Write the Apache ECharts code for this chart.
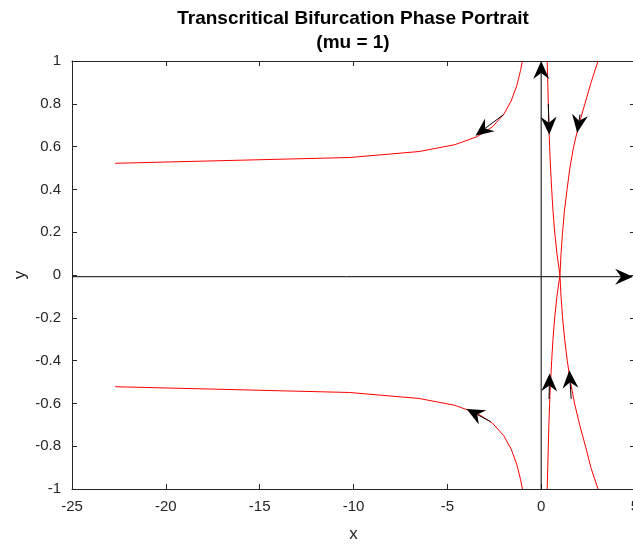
<!DOCTYPE html>
<html>
<head>
<meta charset="utf-8">
<script src="https://cdn.jsdelivr.net/npm/echarts@6/dist/echarts.min.js"></script>
<style>
  html, body { margin: 0; padding: 0; background: #fff; }
  #chart { width: 633px; height: 544px; }
</style>
</head>
<body>
<div id="chart"></div>
<script>
const upperLeft = [[-22.7, 0.522], [-10.2, 0.549], [-6.5, 0.577], [-4.6, 0.609], [-3.4, 0.647],
  [-2.6, 0.692], [-2.0, 0.75], [-1.6, 0.813], [-1.3, 0.885], [-1.1, 0.955], [-1.0, 1.0]]
const lowerLeft = [[-22.7, -0.522], [-10.2, -0.549], [-6.5, -0.577], [-4.6, -0.609], [-3.4, -0.647],
  [-2.6, -0.692], [-2.0, -0.75], [-1.6, -0.813], [-1.3, -0.885], [-1.1, -0.955], [-1.0, -1.0]]
const upperMiddle = [[0.32, 1.0], [0.35, 0.9], [0.38, 0.8], [0.41, 0.7], [0.45, 0.6], [0.5, 0.5],
  [0.56, 0.4], [0.63, 0.3], [0.72, 0.2], [0.84, 0.1], [1.0, 0.0]]
const lowerMiddle = [[0.32, -1.0], [0.35, -0.9], [0.38, -0.8], [0.41, -0.7], [0.45, -0.6], [0.5, -0.5],
  [0.56, -0.4], [0.63, -0.3], [0.72, -0.2], [0.84, -0.1], [1.0, 0.0]]
const upperRight = [[3.03, 1.0], [2.66, 0.9], [2.33, 0.8], [2.0, 0.7], [1.73, 0.6], [1.53, 0.5],
  [1.38, 0.4], [1.24, 0.3], [1.14, 0.2], [1.06, 0.1], [1.0, 0.0]]
const lowerRight = [[3.03, -1.0], [2.65, -0.9], [2.36, -0.8], [2.05, -0.7], [1.78, -0.6], [1.56, -0.5],
  [1.39, -0.4], [1.25, -0.3], [1.14, -0.2], [1.06, -0.1], [1.0, 0.0]]

// quiver arrows: tail -> tip (first two are the drawn axes)
const arrowTails = [[-25, -0.008], [0, -1], [-2.0, 0.75], [-2.7, -0.685], [0.38, 0.8], [2.07, 0.75], [0.42, -0.58], [1.6, -0.58]]
const arrowTips = [[4.9, -0.008], [0, 1], [-3.5, 0.651], [-3.97, -0.626], [0.43, 0.655], [1.92, 0.665], [0.45, -0.46], [1.5, -0.445]]

const xTicks = { min: -25, max: 5, step: 5 }
const yTicks = { min: -1, max: 1, step: 0.2 }

const chart = echarts.init(document.getElementById('chart'))

const axisColor = '#262626'
const fontFamily = 'Liberation Sans, Arial, sans-serif'

const redLine = (data) => ({
  type: 'line',
  data: data,
  showSymbol: false,
  symbol: 'none',
  silent: true,
  lineStyle: { color: '#ff0000', width: 1 },
  z: 2
})

const renderArrow = (params, api) => {
  const p0 = api.coord([api.value(0), api.value(1)])
  const p1 = api.coord([api.value(2), api.value(3)])
  const dx = p1[0] - p0[0]
  const dy = p1[1] - p0[1]
  const len = Math.sqrt(dx * dx + dy * dy) || 1
  const ux = dx / len, uy = dy / len
  const nx = -uy, ny = ux
  const L = 18, W = 8, N = 6
  const back = [p1[0] - ux * L, p1[1] - uy * L]
  const notch = [p1[0] - ux * (L - N), p1[1] - uy * (L - N)]
  return {
    type: 'group',
    children: [
      {
        type: 'line',
        shape: { x1: p0[0], y1: p0[1], x2: notch[0], y2: notch[1] },
        style: { stroke: '#000', lineWidth: 1 }
      },
      {
        type: 'polygon',
        shape: {
          points: [p1, [back[0] + nx * W, back[1] + ny * W], notch, [back[0] - nx * W, back[1] - ny * W]]
        },
        style: { fill: '#000' }
      }
    ]
  }
}

const option = {
  backgroundColor: '#fff',
  animation: false,
  title: {
    text: 'Transcritical Bifurcation Phase Portrait\n(mu = 1)',
    left: 353,
    top: 7,
    padding: 0,
    textAlign: 'center',
    textStyle: { fontFamily: fontFamily, fontSize: 19, fontWeight: 'bold', color: '#000', lineHeight: 24 }
  },
  grid: { left: 72, top: 61, width: 563, height: 428, containLabel: false, outerBoundsMode: 'none' },
  xAxis: [{
    type: 'value',
    min: xTicks.min,
    max: xTicks.max,
    interval: xTicks.step,
    name: 'x',
    nameLocation: 'middle',
    nameGap: 37,
    nameMoveOverlap: false,
    nameTextStyle: { fontFamily: fontFamily, fontSize: 17, color: axisColor },
    axisLine: { show: true, onZero: false, lineStyle: { color: axisColor, width: 1 } },
    axisTick: { show: true, inside: true, length: 5, lineStyle: { color: axisColor } },
    axisLabel: { fontFamily: fontFamily, fontSize: 15, color: axisColor, margin: 10 },
    splitLine: { show: false }
  }, {
    type: 'value',
    position: 'top',
    min: xTicks.min,
    max: xTicks.max,
    interval: xTicks.step,
    axisLine: { show: true, onZero: false, lineStyle: { color: axisColor, width: 1 } },
    axisTick: { show: true, inside: true, length: 5, lineStyle: { color: axisColor } },
    axisLabel: { show: false },
    splitLine: { show: false }
  }],
  yAxis: [{
    type: 'value',
    min: yTicks.min,
    max: yTicks.max,
    interval: yTicks.step,
    name: 'y',
    nameLocation: 'middle',
    nameGap: 43,
    nameMoveOverlap: false,
    nameTextStyle: { fontFamily: fontFamily, fontSize: 17, color: axisColor },
    axisLine: { show: true, onZero: false, lineStyle: { color: axisColor, width: 1 } },
    axisTick: { show: true, inside: true, length: 5, lineStyle: { color: axisColor } },
    axisLabel: { fontFamily: fontFamily, fontSize: 15, color: axisColor, margin: 11 },
    splitLine: { show: false }
  }, {
    type: 'value',
    position: 'right',
    min: yTicks.min,
    max: yTicks.max,
    interval: yTicks.step,
    axisLine: { show: true, onZero: false, lineStyle: { color: axisColor, width: 1 } },
    axisTick: { show: true, inside: true, length: 5, lineStyle: { color: axisColor } },
    axisLabel: { show: false },
    splitLine: { show: false }
  }],
  series: [
    redLine(upperLeft),
    redLine(lowerLeft),
    redLine(upperMiddle),
    redLine(lowerMiddle),
    redLine(upperRight),
    redLine(lowerRight),
    {
      type: 'custom',
      renderItem: renderArrow,
      data: arrowTails.map((t, i) => [t[0], t[1], arrowTips[i][0], arrowTips[i][1]]),
      encode: { x: [0, 2], y: [1, 3] },
      clip: false,
      silent: true,
      z: 3
    }
  ]
}

chart.setOption(option)
</script>
</body>
</html>
